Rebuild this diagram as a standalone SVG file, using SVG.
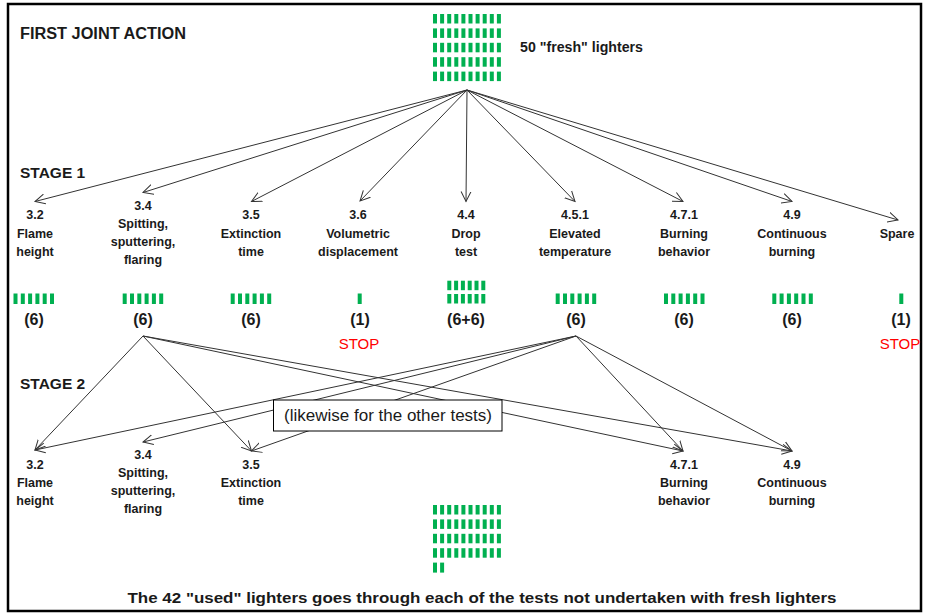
<svg xmlns="http://www.w3.org/2000/svg" width="929" height="615" viewBox="0 0 929 615">
<style>
.t{font-family:"Liberation Sans",Arial,sans-serif;font-weight:bold;fill:#1a1a1a}
.lbl{font-size:12.5px;text-anchor:middle}
.cnt{font-size:16px;text-anchor:middle}
.stop{font-family:"Liberation Sans",Arial,sans-serif;font-size:15px;fill:#ff0000;text-anchor:middle}
.hd{font-size:15.5px}
.bar{fill:#00b050}
.c{stroke:#333;stroke-width:1;fill:none;marker-end:url(#ah)}
</style>
<defs>
<marker id="ah" markerUnits="userSpaceOnUse" markerWidth="12" markerHeight="12" refX="10" refY="5" orient="auto" viewBox="0 0 12 10">
<path d="M0,0 L10,5 L0,10" fill="none" stroke="#333" stroke-width="1"/>
</marker>
<g id="r10">
<rect class="bar" x="0" y="0" width="4" height="9.5"/><rect class="bar" x="7.1" y="0" width="4" height="9.5"/><rect class="bar" x="14.2" y="0" width="4" height="9.5"/><rect class="bar" x="21.3" y="0" width="4" height="9.5"/><rect class="bar" x="28.4" y="0" width="4" height="9.5"/><rect class="bar" x="35.5" y="0" width="4" height="9.5"/><rect class="bar" x="42.6" y="0" width="4" height="9.5"/><rect class="bar" x="49.7" y="0" width="4" height="9.5"/><rect class="bar" x="56.8" y="0" width="4" height="9.5"/><rect class="bar" x="63.9" y="0" width="4" height="9.5"/>
</g>
<g id="r6">
<rect class="bar" x="0" y="0" width="4" height="10.5"/><rect class="bar" x="7.3" y="0" width="4" height="10.5"/><rect class="bar" x="14.6" y="0" width="4" height="10.5"/><rect class="bar" x="21.9" y="0" width="4" height="10.5"/><rect class="bar" x="29.2" y="0" width="4" height="10.5"/><rect class="bar" x="36.5" y="0" width="4" height="10.5"/>
</g>
<g id="r6b">
<rect class="bar" x="0" y="0" width="4" height="9.5"/><rect class="bar" x="6.8" y="0" width="4" height="9.5"/><rect class="bar" x="13.6" y="0" width="4" height="9.5"/><rect class="bar" x="20.4" y="0" width="4" height="9.5"/><rect class="bar" x="27.2" y="0" width="4" height="9.5"/><rect class="bar" x="34" y="0" width="4" height="9.5"/>
</g>
</defs>
<rect x="0" y="0" width="929" height="615" fill="#fff"/>
<rect x="8" y="4" width="913" height="607" fill="none" stroke="#000" stroke-width="2.5"/>

<text class="t" x="20" y="38.5" font-size="16" textLength="166" lengthAdjust="spacingAndGlyphs">FIRST JOINT ACTION</text>
<text class="t hd" x="20" y="177.5">STAGE 1</text>
<text class="t hd" x="20" y="389">STAGE 2</text>

<g id="fresh">
<use href="#r10" x="433" y="14"/><use href="#r10" x="433" y="28.4"/><use href="#r10" x="433" y="42.8"/><use href="#r10" x="433" y="57.2"/><use href="#r10" x="433" y="71.6"/>
<text class="t" x="520" y="52" font-size="15" textLength="123" lengthAdjust="spacingAndGlyphs">50 "fresh" lighters</text>
</g>

<g id="connectors">
<line class="c" x1="467" y1="90" x2="35" y2="201.5"/>
<line class="c" x1="467" y1="90" x2="143" y2="192.5"/>
<line class="c" x1="467" y1="90" x2="251.5" y2="201.5"/>
<line class="c" x1="467" y1="90" x2="360" y2="201"/>
<line class="c" x1="467" y1="90" x2="466" y2="201.5"/>
<line class="c" x1="467" y1="90" x2="575" y2="201.5"/>
<line class="c" x1="467" y1="90" x2="683" y2="201.5"/>
<line class="c" x1="467" y1="90" x2="792" y2="201.5"/>
<line class="c" x1="467" y1="90" x2="898" y2="220"/>
<line class="c" x1="143" y1="336" x2="35" y2="450"/>
<line class="c" x1="143" y1="336" x2="251.5" y2="451"/>
<line class="c" x1="143" y1="336" x2="683" y2="451"/>
<line class="c" x1="143" y1="336" x2="792" y2="451"/>
<line class="c" x1="576" y1="336" x2="35" y2="450"/>
<line class="c" x1="576" y1="336" x2="143" y2="442"/>
<line class="c" x1="576" y1="336" x2="251.5" y2="451"/>
<line class="c" x1="576" y1="336" x2="683" y2="451"/>
<line class="c" x1="576" y1="336" x2="792" y2="451"/>
</g>

<g id="s1-32"><text class="t lbl" x="35" y="219">3.2</text><text class="t lbl" x="35" y="238">Flame</text><text class="t lbl" x="35" y="256">height</text></g>
<g id="s1-34"><text class="t lbl" x="143" y="210">3.4</text><text class="t lbl" x="143" y="228">Spitting,</text><text class="t lbl" x="143" y="246">sputtering,</text><text class="t lbl" x="143" y="264">flaring</text></g>
<g id="s1-35"><text class="t lbl" x="251" y="219">3.5</text><text class="t lbl" x="251" y="238">Extinction</text><text class="t lbl" x="251" y="256">time</text></g>
<g id="s1-36"><text class="t lbl" x="358" y="219">3.6</text><text class="t lbl" x="358" y="238">Volumetric</text><text class="t lbl" x="358" y="256">displacement</text></g>
<g id="s1-44"><text class="t lbl" x="466" y="219">4.4</text><text class="t lbl" x="466" y="238">Drop</text><text class="t lbl" x="466" y="256">test</text></g>
<g id="s1-451"><text class="t lbl" x="575" y="219">4.5.1</text><text class="t lbl" x="575" y="238">Elevated</text><text class="t lbl" x="575" y="256">temperature</text></g>
<g id="s1-471"><text class="t lbl" x="684" y="219">4.7.1</text><text class="t lbl" x="684" y="238">Burning</text><text class="t lbl" x="684" y="256">behavior</text></g>
<g id="s1-49"><text class="t lbl" x="792" y="219">4.9</text><text class="t lbl" x="792" y="238">Continuous</text><text class="t lbl" x="792" y="256">burning</text></g>
<g id="s1-spare"><text class="t lbl" x="897" y="238">Spare</text></g>

<g id="counts">
<use href="#r6" x="13.5" y="293.5"/><text class="t cnt" x="34" y="325">(6)</text>
<use href="#r6" x="122.7" y="293.5"/><text class="t cnt" x="143" y="325">(6)</text>
<use href="#r6" x="230.7" y="293.5"/><text class="t cnt" x="251" y="325">(6)</text>
<rect class="bar" x="357.7" y="293.5" width="4" height="10.5"/><text class="t cnt" x="360" y="325">(1)</text><text class="stop" x="359" y="348.5">STOP</text>
<use href="#r6b" x="447.3" y="280.7"/><use href="#r6b" x="447.3" y="294"/><text class="t cnt" x="466" y="325">(6+6)</text>
<use href="#r6" x="555.7" y="293.5"/><text class="t cnt" x="576" y="325">(6)</text>
<use href="#r6" x="664" y="293.5"/><text class="t cnt" x="684" y="325">(6)</text>
<use href="#r6" x="772.3" y="293.5"/><text class="t cnt" x="792" y="325">(6)</text>
<rect class="bar" x="899.3" y="293.5" width="4" height="10.5"/><text class="t cnt" x="901" y="325">(1)</text><text class="stop" x="900" y="348.5">STOP</text>
</g>

<g id="note">
<rect x="273.5" y="400" width="228.5" height="31" fill="#fff" stroke="#000" stroke-width="1"/>
<text x="388" y="421" font-family="Liberation Sans, Arial, sans-serif" font-size="16" fill="#1a1a1a" text-anchor="middle" textLength="208" lengthAdjust="spacingAndGlyphs">(likewise for the other tests)</text>
</g>

<g id="s2-32"><text class="t lbl" x="35" y="469">3.2</text><text class="t lbl" x="35" y="487">Flame</text><text class="t lbl" x="35" y="504.5">height</text></g>
<g id="s2-34"><text class="t lbl" x="143" y="459">3.4</text><text class="t lbl" x="143" y="477">Spitting,</text><text class="t lbl" x="143" y="495">sputtering,</text><text class="t lbl" x="143" y="513">flaring</text></g>
<g id="s2-35"><text class="t lbl" x="251" y="469">3.5</text><text class="t lbl" x="251" y="487">Extinction</text><text class="t lbl" x="251" y="504.5">time</text></g>
<g id="s2-471"><text class="t lbl" x="684" y="469">4.7.1</text><text class="t lbl" x="684" y="487">Burning</text><text class="t lbl" x="684" y="504.5">behavior</text></g>
<g id="s2-49"><text class="t lbl" x="792" y="469">4.9</text><text class="t lbl" x="792" y="487">Continuous</text><text class="t lbl" x="792" y="504.5">burning</text></g>

<g id="used">
<use href="#r10" x="433" y="505"/><use href="#r10" x="433" y="519.4"/><use href="#r10" x="433" y="533.8"/><use href="#r10" x="433" y="548.2"/>
<rect class="bar" x="433" y="562.6" width="4" height="10"/><rect class="bar" x="440.1" y="562.6" width="4" height="10"/>
<text class="t" x="482" y="603" font-size="15" text-anchor="middle" textLength="709" lengthAdjust="spacingAndGlyphs">The 42 "used" lighters goes through each of the tests not undertaken with fresh lighters</text>
</g>
</svg>
